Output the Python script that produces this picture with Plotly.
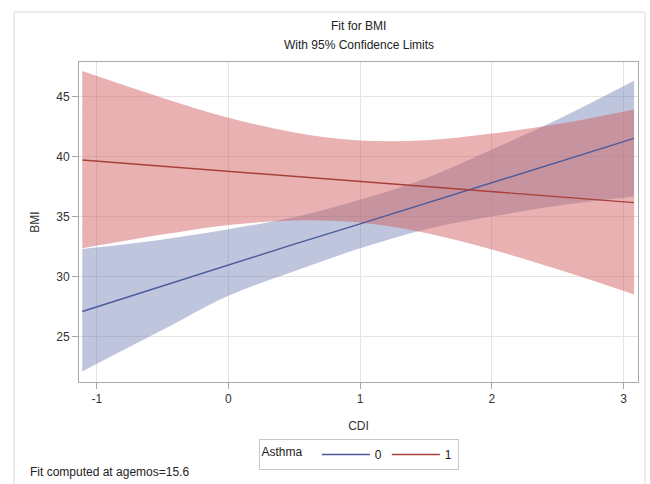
import plotly.graph_objects as go

# Data
cdi = [-1.11, -0.5, 0.0, 0.5, 1.0, 1.5, 2.0, 2.5, 3.08]

bmi_fit_0 = [27.08, 29.2, 31.0, 32.7, 34.4, 36.1, 37.8, 39.5, 41.53]
bmi_lcl_0 = [22.08, 25.55, 28.4, 30.45, 32.35, 33.95, 35.0, 35.9, 36.67]
bmi_ucl_0 = [32.3, 33.1, 33.95, 34.95, 36.4, 38.2, 40.6, 43.1, 46.33]

bmi_fit_1 = [39.72, 39.2, 38.78, 38.35, 37.93, 37.5, 37.09, 36.66, 36.17]
bmi_lcl_1 = [32.36, 33.5, 34.3, 34.68, 34.5, 33.63, 32.25, 30.6, 28.5]
bmi_ucl_1 = [47.14, 44.9, 43.25, 42.02, 41.35, 41.37, 41.93, 42.72, 43.94]

x_ticks = [-1, 0, 1, 2, 3]
y_ticks = [25, 30, 35, 40, 45]

FONT = "Liberation Sans, Arial, sans-serif"
BLUE_LINE = "#4a5a9c"
RED_LINE = "#a8403a"
BLUE_FILL = "rgba(111,126,179,0.45)"
RED_FILL = "rgba(208,91,91,0.48)"

fig = go.Figure()

# Asthma = 0 band
fig.add_trace(go.Scatter(x=cdi, y=bmi_lcl_0, mode="lines", line=dict(width=0, shape="spline"),
                         showlegend=False, hoverinfo="skip"))
fig.add_trace(go.Scatter(x=cdi, y=bmi_ucl_0, mode="lines", line=dict(width=0, shape="spline"),
                         fill="tonexty", fillcolor=BLUE_FILL, showlegend=False, hoverinfo="skip"))
# Asthma = 1 band
fig.add_trace(go.Scatter(x=cdi, y=bmi_lcl_1, mode="lines", line=dict(width=0, shape="spline"),
                         showlegend=False, hoverinfo="skip"))
fig.add_trace(go.Scatter(x=cdi, y=bmi_ucl_1, mode="lines", line=dict(width=0, shape="spline"),
                         fill="tonexty", fillcolor=RED_FILL, showlegend=False, hoverinfo="skip"))

# Fit lines
fig.add_trace(go.Scatter(x=cdi, y=bmi_fit_0, mode="lines", name="0",
                         line=dict(color=BLUE_LINE, width=1.4)))
fig.add_trace(go.Scatter(x=cdi, y=bmi_fit_1, mode="lines", name="1",
                         line=dict(color=RED_LINE, width=1.4)))

fig.update_layout(
    width=650, height=484, autosize=False,
    margin=dict(l=79, r=12, t=62, b=102, autoexpand=False),
    paper_bgcolor="white", plot_bgcolor="white",
    font=dict(family=FONT, size=12, color="#333333"),
    showlegend=True,
    legend=dict(
        orientation="h", x=0.5, xanchor="center", y=-0.178, yanchor="top",
        traceorder="normal",
        bordercolor="#c8c8c8", borderwidth=1, bgcolor="white",
        title=dict(text="Asthma  ", side="left", font=dict(size=12, color="#222222")),
        font=dict(size=12, color="#222222"),
        itemwidth=48, tracegroupgap=0,
    ),
)

fig.update_xaxes(
    range=[-1.135, 3.11], tickvals=x_ticks, ticktext=[str(v) for v in x_ticks],
    showgrid=True, gridcolor="#e4e4e4", gridwidth=1, zeroline=False,
    showline=True, linecolor="#a8a8a8", linewidth=1, mirror=True,
    ticks="outside", ticklen=6, tickcolor="#a8a8a8",
    tickfont=dict(size=12, color="#333333"),
    title=dict(text="CDI", font=dict(size=12, color="#333333"), standoff=16),
)
fig.update_yaxes(
    range=[21.2, 47.9], tickvals=y_ticks, ticktext=[str(v) for v in y_ticks],
    showgrid=True, gridcolor="#e4e4e4", gridwidth=1, zeroline=False,
    showline=True, linecolor="#a8a8a8", linewidth=1, mirror=True,
    ticks="outside", ticklen=6, tickcolor="#a8a8a8",
    tickfont=dict(size=12, color="#333333"),
    title=dict(text="BMI", font=dict(size=12, color="#333333"), standoff=14),
)

# Outer frame
fig.add_shape(type="rect", xref="paper", yref="paper",
              x0=-0.116, x1=1.0125, y0=-0.34, y1=1.156,
              line=dict(color="#dcdcdc", width=1), fillcolor="rgba(0,0,0,0)", layer="below")

# Titles
fig.add_annotation(text="Fit for BMI", xref="paper", yref="paper", x=0.5, y=1.113,
                   showarrow=False, font=dict(size=12, color="#222222"), yanchor="middle")
fig.add_annotation(text="With 95% Confidence Limits", xref="paper", yref="paper", x=0.5, y=1.053,
                   showarrow=False, font=dict(size=12, color="#222222"), yanchor="middle")
# Footnote
fig.add_annotation(text="Fit computed at agemos=15.6", xref="paper", yref="paper",
                   x=-0.0912, y=-0.282, xanchor="left", yanchor="middle",
                   showarrow=False, font=dict(size=12, color="#222222"))

fig.write_html("out.html", config={"displayModeBar": False},
               post_script="document.body.style.margin='0';document.body.style.padding='0';")
